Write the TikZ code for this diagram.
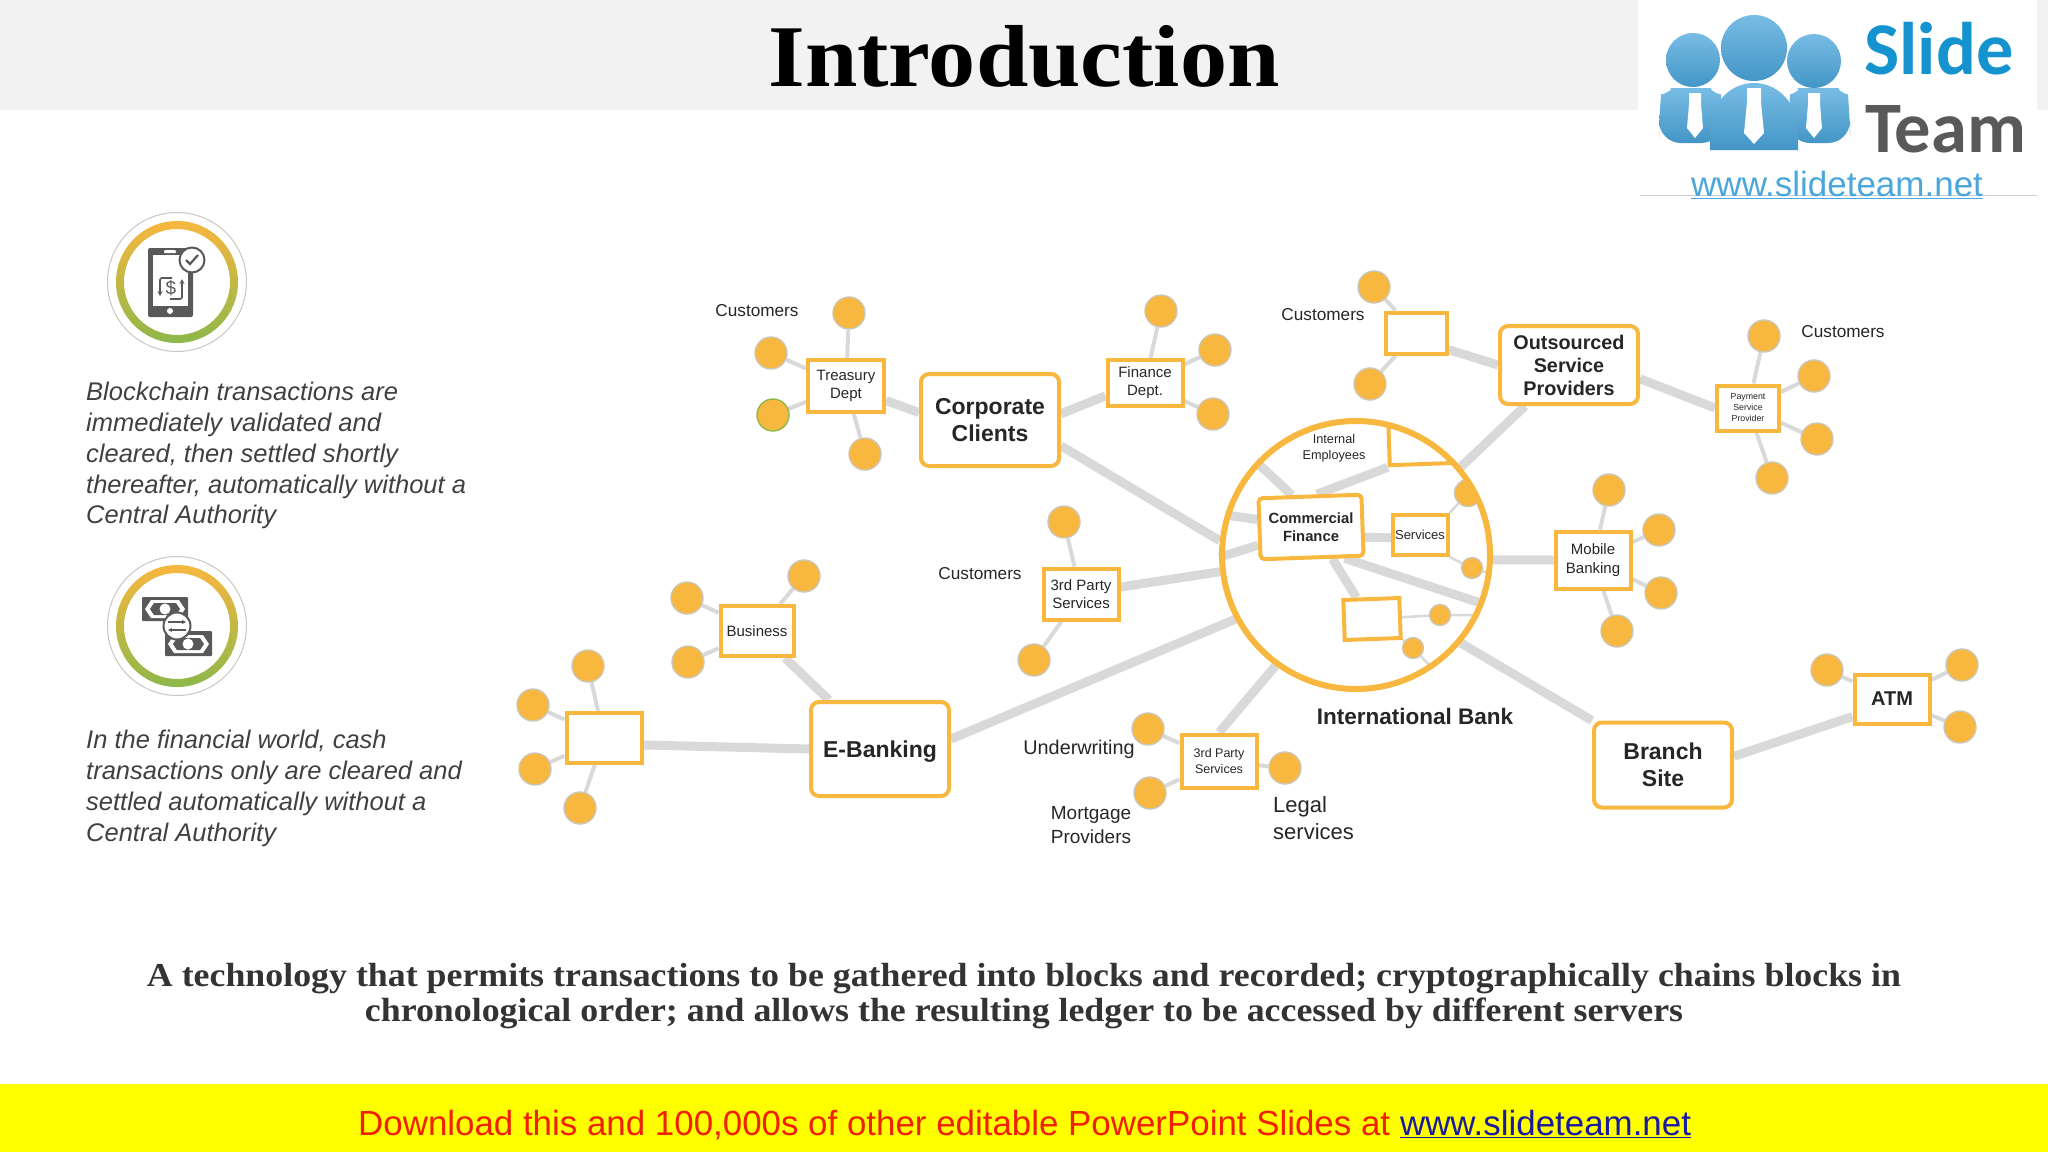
\documentclass[tikz,border=0pt]{standalone}
\usepackage{fontspec}
\setmainfont{Liberation Sans}
\newfontfamily\headfont[FakeStretch=1.07]{Liberation Serif}
\newfontfamily\logofont{Carlito}
\definecolor{ringorange}{HTML}{F8B73F}
\definecolor{ringgreen}{HTML}{8DB84A}
\definecolor{linkgray}{HTML}{D9D9DA}
\definecolor{leafedge}{HTML}{CBC6B8}
\definecolor{icondark}{HTML}{58595B}
\definecolor{bodytext}{HTML}{404040}
\definecolor{logoblue}{HTML}{4BA6DC}
\definecolor{logotext}{HTML}{1593CF}
\definecolor{bandyellow}{HTML}{FFFF00}
\definecolor{bandred}{HTML}{F02000}
\definecolor{bandblue}{HTML}{1A1AA0}
\newcommand{\fsz}[2]{\fontsize{#1}{#2}\selectfont}
\usetikzlibrary{positioning, arrows.meta, backgrounds}

\begin{document}
\begin{tikzpicture}[
    x=1pt, y=-1pt,
    box/.style={
      rectangle, draw=ringorange, fill=white,
      line width=4pt, align=center, inner sep=0pt, text=black!85,
    },
    bigbox/.style={
      box, rounded corners=8pt, minimum width=138pt, text=black!85,
      font=\fsz{23}{26.5}\bfseries,
    },
    leaf/.style={
      circle, fill=ringorange, draw=leafedge, line width=1.4pt,
      minimum size=32pt, inner sep=0pt,
    },
    tiny leaf/.style={leaf, minimum size=21pt},
    trunk/.style={linkgray, line width=9pt},
    twig/.style={linkgray, line width=4pt},
    thin twig/.style={linkgray, line width=2.5pt},
    caption/.style={text=black!85, align=center, inner sep=0pt},
    note/.style={
      text=bodytext, align=left, inner sep=0pt, anchor=north west,
      font=\fsz{25.5}{30.8}\itshape,
    },
    halo/.style={
      circle, draw=black!22, fill=white, line width=1pt,
      minimum size=139pt, inner sep=0pt,
    },
    iconline/.style={icondark, line width=1.6pt},
    person/.style={top color=logoblue!75!white, bottom color=logoblue!90!black},
  ]

  \path[use as bounding box] (0,0) rectangle (2048,1152);
  \fill[black!5] (0,0) rectangle (2048,110);
  \fill[white] (1638,0) rectangle (2037,195);
  \fill[bandyellow] (0,1084) rectangle (2048,1152);
  \draw[black!20, line width=1pt] (1640,195) -- (2037,195);

  \node[font=\headfont\fsz{88}{96}\bfseries, text=black] (title) at (1024,57) {Introduction};

  \shade[person, rounded corners=22pt] (1659,143) -- (1659,116) .. controls (1661,96) and (1677,88) .. (1691,88) .. controls (1705,88) and (1721,96) .. (1723,116) -- (1723,143) -- cycle;
  \shade[person, rounded corners=22pt] (1788,143) -- (1788,116) .. controls (1790,96) and (1804,88) .. (1818,88) .. controls (1834,88) and (1848,96) .. (1850,116) -- (1850,143) -- cycle;
  \shade[person] (1710,150) -- (1710,130) .. controls (1712,100) and (1732,83) .. (1754,83) .. controls (1776,83) and (1796,100) .. (1798,130) -- (1798,150) -- cycle;
  \shade[person] (1693,60) circle (27pt);
  \shade[person] (1814,61) circle (27pt);
  \shade[person] (1754,48) circle (33pt);
  \fill[white] (1689,93) -- (1701,93) -- (1701,104) -- (1703,128) -- (1695,138) -- (1687,128) -- (1689,104) -- cycle;
  \fill[white] (1747,88) -- (1761,88) -- (1761,102) -- (1764,133) -- (1754,144) -- (1744,133) -- (1747,102) -- cycle;
  \fill[white] (1808,93) -- (1820,93) -- (1820,104) -- (1822,128) -- (1814,138) -- (1806,128) -- (1808,104) -- cycle;
  \node[font=\logofont\fsz{74.5}{76}\bfseries, text=logotext, inner sep=0pt, anchor=base west] (logo-slide) at (1864,74) {Slide};
  \node[font=\logofont\fsz{72.5}{74}\bfseries, text=black!65, inner sep=0pt, anchor=base west] (logo-team) at (1865,152) {Team};
  \node[font=\fsz{35}{38}, text=logoblue, inner sep=0pt, anchor=base west] (logo-url) at (1691,196) {\underline{www.slideteam.net}};

  \begin{scope}[shift={(0,3)}]
    \node[halo] (halo-phone) at (177,279) {};
    \path[even odd rule, top color=ringorange, bottom color=ringgreen] (177,279) circle (61pt) (177,279) circle (53pt);
    \fill[icondark, rounded corners=2pt] (148,245) rectangle (193,314);
    \fill[white] (153,252) rectangle (188,303);
    \fill[white, rounded corners=1pt] (164,247) rectangle (176,250);
    \fill[white] (170,308) circle (3pt);
    \node[font=\fsz{19}{20}, text=icondark, inner sep=0pt] (dollar) at (171,285) {\$};
    \draw[iconline, -{Stealth[length=5pt,width=5pt]}, rounded corners=2pt] (172,275) -- (160,275) -- (160,293);
    \draw[iconline, -{Stealth[length=5pt,width=5pt]}, rounded corners=2pt] (170,296) -- (182,296) -- (182,276);
    \node[circle, draw=icondark, fill=white, line width=2pt, minimum size=25pt, inner sep=0pt] (badge) at (192,257) {};
    \draw[icondark, line width=2.2pt] (186,257) -- (190,261) -- (198,252);
  \end{scope}

  \node[note] (note-one) at (86,382)
    {Blockchain transactions are\\
     immediately validated and\\
     cleared, then settled shortly\\
     thereafter, automatically without a\\
     Central Authority};

  \begin{scope}[shift={(0,14)}]
    \node[halo] (halo-cash) at (177,612) {};
    \path[even odd rule, top color=ringorange, bottom color=ringgreen] (177,612) circle (61pt) (177,612) circle (53pt);
    \fill[icondark, rounded corners=1pt] (142,583) rectangle (188,607);
    \fill[white] (145,595) -- (151,586) -- (179,586) -- (185,595) -- (179,604) -- (151,604) -- cycle;
    \fill[icondark] (150,595) -- (154,589) -- (176,589) -- (180,595) -- (176,601) -- (154,601) -- cycle;
    \fill[white] (165,595) circle (5.5pt);
    \fill[icondark, rounded corners=1pt] (165,617) rectangle (212,642);
    \fill[white] (168,630) -- (174,621) -- (203,621) -- (209,630) -- (203,639) -- (174,639) -- cycle;
    \fill[icondark] (173,630) -- (177,624) -- (200,624) -- (204,630) -- (200,636) -- (177,636) -- cycle;
    \fill[white] (188,630) circle (5.5pt);
    \node[circle, draw=icondark, fill=white, line width=2pt, minimum size=27pt, inner sep=0pt] (swap) at (177,612) {};
    \draw[iconline, -{Stealth[length=4pt,width=4pt]}] (168,608) -- (186,608);
    \draw[iconline, -{Stealth[length=4pt,width=4pt]}] (186,616) -- (168,616);
  \end{scope}

  \node[note] (note-two) at (86,730)
    {In the financial world, cash\\
     transactions only are cleared and\\
     settled automatically without a\\
     Central Authority};

  \node[bigbox, minimum height=92pt] (corp) at (990,420) {Corporate\\Clients};
  \node[box, minimum width=76pt, minimum height=52pt, font=\fsz{15}{18}] (treasury) at (846,386) {Treasury\\Dept};
  \node[box, minimum width=75pt, minimum height=46pt, font=\fsz{15}{18}] (finance) at (1145,383) {Finance\\Dept.};
  \node[bigbox, minimum height=78pt, font=\fsz{19.8}{23}\bfseries] (outsourced) at (1569,365) {Outsourced\\Service\\Providers};
  \node[box, minimum width=61pt, minimum height=41pt] (topbox) at (1416,333) {};
  \node[box, minimum width=62pt, minimum height=45pt, font=\fsz{8.8}{11}] (payment) at (1748,408) {Payment\\Service\\Provider};
  \node[box, minimum width=75pt, minimum height=57pt, font=\fsz{15}{18.5}] (mobile) at (1593,560) {Mobile\\Banking};
  \node[box, minimum width=75pt, minimum height=49pt, font=\fsz{20}{24}\bfseries] (atm) at (1892,699) {ATM};
  \node[bigbox, minimum height=85pt] (branch) at (1663,765) {Branch\\Site};
  \node[box, minimum width=75pt, minimum height=53pt, font=\fsz{12.5}{15.5}] (party-low) at (1219,761) {3rd Party\\Services};
  \node[box, minimum width=75pt, minimum height=51pt, font=\fsz{15}{18}] (party-mid) at (1081,594) {3rd Party\\Services};
  \node[box, minimum width=73pt, minimum height=50pt, font=\fsz{15}{18}] (business) at (757,631) {Business};
  \node[box, minimum width=75pt, minimum height=50pt] (leftbox) at (604,738) {};
  \node[bigbox, minimum height=94pt, text height=22pt, text depth=5pt] (ebank) at (880,749) {E-Banking};

  \begin{scope}
    \clip (1356,555) circle (134pt);
    \node[box, rotate=2, minimum width=70pt, minimum height=44pt] (intbox) at (1424,442) {};
    \node[leaf, minimum size=27pt] (bank-a) at (1468,493) {};
  \end{scope}
  \node[box, rounded corners=4pt, rotate=2, minimum width=103pt, minimum height=61pt] (cfin) at (1311,527) {};
  \node[caption, font=\fsz{14.8}{18.5}\bfseries] (cfin-name) at (1311,527) {Commercial\\Finance};
  \node[box, minimum width=55pt, minimum height=40pt, font=\fsz{13}{16}] (services) at (1420,535) {Services};
  \node[box, rotate=2, minimum width=56pt, minimum height=40pt] (bankbox) at (1372,619) {};
  \node[tiny leaf] (bank-b) at (1472,568) {};
  \node[tiny leaf] (bank-c) at (1440,615) {};
  \node[tiny leaf] (bank-d) at (1413,648) {};
  \node[circle, draw=ringorange, line width=6pt, minimum size=268pt, inner sep=0pt] (bank) at (1356,555) {};

  \node[leaf] (treasury-a) at (849,313) {};
  \node[leaf] (treasury-b) at (771,353) {};
  \node[leaf, draw=ringgreen] (treasury-c) at (773,415) {};
  \node[leaf] (treasury-d) at (865,454) {};
  \node[leaf] (finance-a) at (1161,311) {};
  \node[leaf] (finance-b) at (1215,350) {};
  \node[leaf] (finance-c) at (1213,414) {};
  \node[leaf] (topbox-a) at (1374,287) {};
  \node[leaf] (topbox-b) at (1370,384) {};
  \node[leaf] (payment-a) at (1764,336) {};
  \node[leaf] (payment-b) at (1814,376) {};
  \node[leaf] (payment-c) at (1817,439) {};
  \node[leaf] (payment-d) at (1772,478) {};
  \node[leaf] (mobile-a) at (1609,490) {};
  \node[leaf] (mobile-b) at (1659,530) {};
  \node[leaf] (mobile-c) at (1661,593) {};
  \node[leaf] (mobile-d) at (1617,631) {};
  \node[leaf] (atm-a) at (1827,670) {};
  \node[leaf] (atm-b) at (1962,665) {};
  \node[leaf] (atm-c) at (1960,727) {};
  \node[leaf] (party-low-a) at (1148,729) {};
  \node[leaf] (party-low-b) at (1150,793) {};
  \node[leaf] (party-low-c) at (1285,768) {};
  \node[leaf] (party-mid-a) at (1064,522) {};
  \node[leaf] (party-mid-b) at (1034,660) {};
  \node[leaf] (business-a) at (804,576) {};
  \node[leaf] (business-b) at (687,598) {};
  \node[leaf] (business-c) at (688,662) {};
  \node[leaf] (leftbox-a) at (588,666) {};
  \node[leaf] (leftbox-b) at (533,705) {};
  \node[leaf] (leftbox-c) at (535,769) {};
  \node[leaf] (leftbox-d) at (580,808) {};

  \node[caption, font=\fsz{17.2}{20}] (cust-a) at (757,311) {Customers};
  \node[caption, font=\fsz{17.2}{20}] (cust-b) at (1323,315) {Customers};
  \node[caption, font=\fsz{17.2}{20}] (cust-c) at (1843,332) {Customers};
  \node[caption, font=\fsz{17.2}{20}] (cust-d) at (980,574) {Customers};
  \node[caption, font=\fsz{12.7}{15.5}] (internal) at (1334,448) {Internal\\Employees};
  \node[caption, font=\fsz{19.8}{24}] (underwriting) at (1079,749) {Underwriting};
  \node[caption, font=\fsz{19}{23.5}] (mortgage) at (1091,825) {Mortgage\\Providers};
  \node[caption, font=\fsz{22}{27}, align=left, anchor=west] (legal) at (1273,818) {Legal\\services};
  \node[caption, font=\fsz{22.5}{26}\bfseries] (bank-name) at (1415,716) {International Bank};

  \node[font=\headfont\fsz{33.5}{35.5}\bfseries, text=black!80, align=center, inner sep=0pt] (summary) at (1024,996)
    {A technology that permits transactions to be gathered into blocks and recorded; cryptographically chains blocks in\\
     chronological order; and allows the resulting ledger to be accessed by different servers};

  \node[font=\fsz{34.9}{40}, text=bandred, inner sep=0pt, anchor=base west] (download) at (358,1135)
    {Download this and 100,000s of other editable PowerPoint Slides at \textcolor{bandblue}{\underline{www.slideteam.net}}};

  \begin{scope}[on background layer]
    \draw[trunk] (treasury.-20) -- (corp.174);
    \draw[trunk] (corp.5) -- (finance.198);
    \draw[trunk] (topbox.-27) -- (outsourced.west);
    \draw[trunk] (outsourced.-11) -- (payment.west);
    \draw[trunk] (corp.-20) -- (bank.174);
    \draw[trunk] (party-mid.10) -- (bank.187);
    \draw[trunk] (ebank.8) -- (bank.208);
    \draw[trunk] (party-low.north) -- (bank.234);
    \draw[trunk] (branch.north west) -- (bank.320);
    \draw[trunk] (mobile.180) -- (bank.358);
    \draw[trunk] (outsourced.223) -- (bank.40);
    \draw[trunk] (branch.7) -- (atm.204);
    \draw[trunk] (leftbox.-10) -- (ebank.west);
    \draw[trunk] (business) -- (ebank);
    \draw[trunk] (cfin.119) -- (bank.137);
    \draw[trunk] (cfin.170) -- (bank.163);
    \draw[trunk] (cfin.197) -- (bank.181);
    \draw[trunk] (cfin.78) -- (intbox.south west);
    \draw[trunk] (cfin.-13) -- (services.-5);
    \draw[trunk] (cfin.-45) -- (bank.-21);
    \draw[trunk] (cfin.-58) -- (bankbox.124);

    \draw[thin twig] (services.north east) -- (bank-a);
    \draw[thin twig] (services.south east) -- (bank-b);
    \draw[thin twig] (bank-b) -- (bank.-8);
    \draw[thin twig] (bankbox) -- (bank-c);
    \draw[thin twig] (bank-c) -- (bank.-26);
    \draw[thin twig] (bankbox.south east) -- (bank-d);
    \draw[thin twig] (bank-d) -- (bank.-56);

    \draw[twig] (treasury) -- (treasury-a);
    \draw[twig] (treasury) -- (treasury-b);
    \draw[twig] (treasury) -- (treasury-c);
    \draw[twig] (treasury) -- (treasury-d);
    \draw[twig] (finance) -- (finance-a);
    \draw[twig] (finance) -- (finance-b);
    \draw[twig] (finance) -- (finance-c);
    \draw[twig] (topbox) -- (topbox-a);
    \draw[twig] (topbox) -- (topbox-b);
    \draw[twig] (payment) -- (payment-a);
    \draw[twig] (payment) -- (payment-b);
    \draw[twig] (payment) -- (payment-c);
    \draw[twig] (payment) -- (payment-d);
    \draw[twig] (mobile) -- (mobile-a);
    \draw[twig] (mobile) -- (mobile-b);
    \draw[twig] (mobile) -- (mobile-c);
    \draw[twig] (mobile) -- (mobile-d);
    \draw[twig] (atm) -- (atm-a);
    \draw[twig] (atm) -- (atm-b);
    \draw[twig] (atm) -- (atm-c);
    \draw[twig] (party-low) -- (party-low-a);
    \draw[twig] (party-low) -- (party-low-b);
    \draw[twig] (party-low) -- (party-low-c);
    \draw[twig] (party-mid) -- (party-mid-a);
    \draw[twig] (party-mid) -- (party-mid-b);
    \draw[twig] (business) -- (business-a);
    \draw[twig] (business) -- (business-b);
    \draw[twig] (business) -- (business-c);
    \draw[twig] (leftbox) -- (leftbox-a);
    \draw[twig] (leftbox) -- (leftbox-b);
    \draw[twig] (leftbox) -- (leftbox-c);
    \draw[twig] (leftbox) -- (leftbox-d);
  \end{scope}
\end{tikzpicture}
\end{document}
